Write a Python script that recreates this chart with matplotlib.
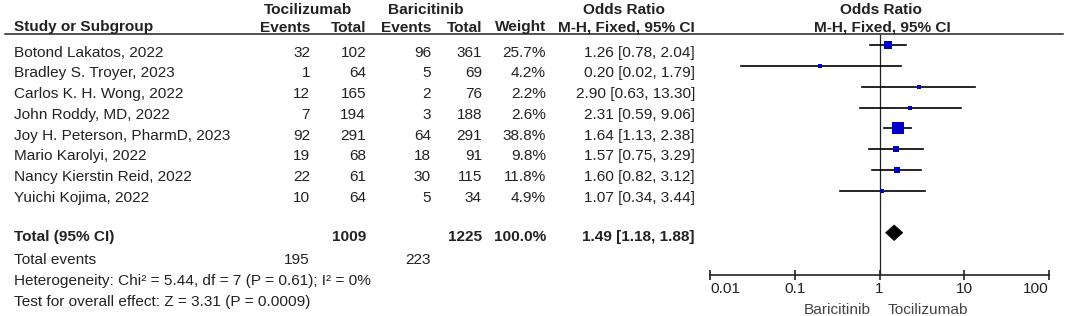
import matplotlib
matplotlib.use("Agg")
import matplotlib.pyplot as plt
from matplotlib.patches import Polygon
import numpy as np

plt.rcParams['font.family'] = ['Liberation Sans', 'DejaVu Sans']
FS = 11.1
plt.rcParams['font.size'] = FS

# ---------------- data ----------------
studies = ["Botond Lakatos, 2022", "Bradley S. Troyer, 2023", "Carlos K. H. Wong, 2022",
           "John Roddy, MD, 2022", "Joy H. Peterson, PharmD, 2023", "Mario Karolyi, 2022",
           "Nancy Kierstin Reid, 2022", "Yuichi Kojima, 2022"]
toci_events = [32, 1, 12, 7, 92, 19, 22, 10]
toci_total = [102, 64, 165, 194, 291, 68, 61, 64]
bari_events = [96, 5, 2, 3, 64, 18, 30, 5]
bari_total = [361, 69, 76, 188, 291, 91, 115, 34]
weights = [25.7, 4.2, 2.2, 2.6, 38.8, 9.8, 11.8, 4.9]
odds = [1.26, 0.20, 2.90, 2.31, 1.64, 1.57, 1.60, 1.07]
ci_low = [0.78, 0.023, 0.63, 0.59, 1.13, 0.75, 0.82, 0.34]
ci_high = [2.04, 1.79, 13.30, 9.06, 2.38, 3.29, 3.12, 3.44]

total_toci_n = 1009
total_bari_n = 1225
total_weight = 100.0
total_or, total_lo, total_hi = 1.49, 1.18, 1.88
total_toci_events = 195
total_bari_events = 223
heterogeneity = "Heterogeneity: Chi² = 5.44, df = 7 (P = 0.61); I² = 0%"
overall = "Test for overall effect: Z = 3.31 (P = 0.0009)"
xticks = [0.01, 0.1, 1, 10, 100]
xtick_labels = ["0.01", "0.1", "1", "10", "100"]

# ---------------- figure ----------------
W, H = 1065, 316
fig = plt.figure(figsize=(W / 100, H / 100), dpi=100)
txt = fig.add_axes([0, 0, 1, 1])
txt.set_xlim(0, W)
txt.set_ylim(H, 0)
txt.axis('off')

TC = '#222222'

# layout (pixels)
x_study = 14
x_te, x_tt, x_be, x_bt, x_w, x_or = 310, 366, 431, 482, 546, 695
row0, dy = 56.7, 20.75

def base(i):
    return row0 + dy * i

# headers
hb = dict(fontweight='bold', color=TC, va='baseline')
txt.text(308, 13.5, "Tocilizumab", ha='center', **hb)
txt.text(426, 13.5, "Baricitinib", ha='center', **hb)
txt.text(624, 13.5, "Odds Ratio", ha='center', **hb)
txt.text(881, 13.5, "Odds Ratio", ha='center', **hb)
h2 = 31.5
txt.text(x_study, h2, "Study or Subgroup", ha='left', **hb)
txt.text(x_te, h2, "Events", ha='right', **hb)
txt.text(x_tt, h2, "Total", ha='right', **hb)
txt.text(x_be, h2, "Events", ha='right', **hb)
txt.text(x_bt, h2, "Total", ha='right', **hb)
txt.text(x_w, h2, "Weight", ha='right', **hb)
txt.text(x_or, h2, "M-H, Fixed, 95% CI", ha='right', **hb)
txt.text(882, h2, "M-H, Fixed, 95% CI", ha='center', **hb)
txt.plot([5, 1063], [33.5, 33.5], color='#222222', lw=1.1)

# study rows
nb = dict(color=TC, va='baseline')
for i, s in enumerate(studies):
    y = base(i)
    txt.text(x_study, y, s, ha='left', **nb)
    txt.text(x_te, y, f"{toci_events[i]}", ha='right', **nb)
    txt.text(x_tt, y, f"{toci_total[i]}", ha='right', **nb)
    txt.text(x_be, y, f"{bari_events[i]}", ha='right', **nb)
    txt.text(x_bt, y, f"{bari_total[i]}", ha='right', **nb)
    txt.text(x_w, y, f"{weights[i]:.1f}%", ha='right', **nb)
    txt.text(x_or, y, f"{odds[i]:.2f} [{ci_low[i]:.2f}, {ci_high[i]:.2f}]", ha='right', **nb)

# total rows
y = base(8.9)
txt.text(x_study, y, "Total (95% CI)", ha='left', **hb)
txt.text(x_tt, y, f"{total_toci_n}", ha='right', **hb)
txt.text(x_bt, y, f"{total_bari_n}", ha='right', **hb)
txt.text(x_w, y, f"{total_weight:.1f}%", ha='right', **hb)
txt.text(x_or, y, f"{total_or:.2f} [{total_lo:.2f}, {total_hi:.2f}]", ha='right', **hb)
y = base(10)
txt.text(x_study, y, "Total events", ha='left', **nb)
txt.text(x_te, y, f"{total_toci_events}", ha='right', **nb)
txt.text(x_be, y, f"{total_bari_events}", ha='right', **nb)
txt.text(x_study, base(11), heterogeneity, ha='left', **nb)
txt.text(x_study, base(12), overall, ha='left', **nb)

# favours labels
txt.text(871, 314, "Baricitinib", ha='right', va='baseline', color='#444444')
txt.text(888, 314, "Tocilizumab", ha='left', va='baseline', color='#444444')

# ---------------- forest axes ----------------
fx0, fx1 = 710, 1049
fy_top, fy_bot = 33, 275
ax = fig.add_axes([fx0 / W, 1 - fy_bot / H, (fx1 - fx0) / W, (fy_bot - fy_top) / H])
ax.patch.set_alpha(0)
ax.set_xscale('log')
ax.set_xlim(0.01, 100)
r0, rdy = 45, 20.86
ax.set_ylim((fy_bot - r0) / rdy, (fy_top - r0) / rdy)
for sp in ['top', 'left', 'right']:
    ax.spines[sp].set_visible(False)
ax.spines['bottom'].set_linewidth(1.2)
ax.spines['bottom'].set_color('#222222')
ax.set_yticks([])
ax.set_xticks(xticks)
ax.set_xticklabels(xtick_labels)
ax.minorticks_off()
ax.tick_params(axis='x', direction='inout', length=6.5, width=1.2, pad=2.0,
               colors='#222222', labelcolor=TC, labelsize=FS)
labs = ax.get_xticklabels()
labs[0].set_ha('left')
labs[-1].set_ha('right')

ybottom = (fy_bot - r0) / rdy
ax.plot([1, 1], [ybottom, -0.5], color='#222222', lw=0.9, zorder=1)

for i in range(len(studies)):
    ax.plot([ci_low[i], ci_high[i]], [i, i], color='black', lw=1.2, zorder=2)
    side_px = max(3.6, 1.77 * np.sqrt(weights[i]))
    ax.plot([odds[i]], [i], marker='s', color='#0000CC', markersize=side_px * 0.72,
            markeredgewidth=0, linestyle='none', zorder=3)

hd = 7.8 / rdy
ax.add_patch(Polygon([(total_lo, 9), (total_or, 9 - hd), (total_hi, 9), (total_or, 9 + hd)],
                     closed=True, facecolor='black', edgecolor='black', lw=0.5, zorder=3))

fig.savefig("out.png", dpi=100)
